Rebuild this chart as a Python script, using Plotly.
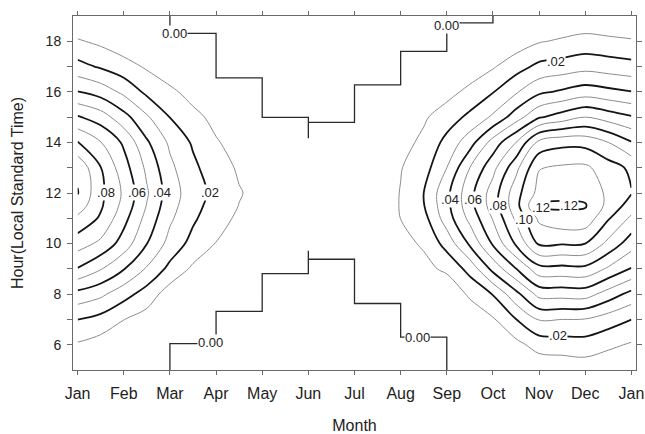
import plotly.graph_objects as go
import numpy as np

# Grid: month position (0 = Jan, 12 = following Jan) and hour of day
month_pos = [0, 0.5, 1, 1.5, 2, 2.5, 3, 3.5, 4, 4.5, 5, 5.5, 6,
             6.5, 7, 7.5, 8, 8.5, 9, 9.5, 10, 10.5, 11, 11.5, 12]
hours = [5, 6, 7, 8, 9, 10, 11, 11.5, 12, 13, 14, 15, 16, 17, 18, 19]

# Field value per month position, listed by hour (5, 6, ..., 11, 11.5, 12, ..., 19)
m00_0 = [0, 0.0089, 0.0201, 0.0367, 0.0594, 0.0745, 0.088, 0.0955, 0.1005, 0.098, 0.0806, 0.061, 0.0404, 0.0233, 0.0111, 0]
m00_5 = [0, 0.0056, 0.0166, 0.0322, 0.0507, 0.0678, 0.0786, 0.0815, 0.0822, 0.0803, 0.0704, 0.055, 0.0357, 0.0188, 0.0078, 0]
m01_0 = [0, 0, 0.0102, 0.0238, 0.0406, 0.0555, 0.0633, 0.0668, 0.0684, 0.0642, 0.0584, 0.0436, 0.0277, 0.0139, 0.0037, 0]
m01_5 = [0, 0, 0.0058, 0.0155, 0.0289, 0.0402, 0.0466, 0.0495, 0.0512, 0.0479, 0.0414, 0.0314, 0.0177, 0.0087, 0, 0]
m02_0 = [0, 0, 0, 0.005, 0.0172, 0.0265, 0.0317, 0.0337, 0.0348, 0.0323, 0.0282, 0.0198, 0.012, 0.004, 0, 0]
m02_5 = [0, 0, 0, 0, 0.0082, 0.0166, 0.0217, 0.0236, 0.0247, 0.0222, 0.0187, 0.0126, 0.0066, 0.001, 0, 0]
m03_0 = [0, 0, 0, 0.0025, 0.0061, 0.0097, 0.0133, 0.0155, 0.017, 0.0142, 0.0108, 0.0074, 0.004, 0.001, 0, 0]
m03_5 = [0, 0, 0, 0, 0.003, 0.006, 0.0085, 0.0098, 0.0106, 0.0088, 0.0065, 0.004, 0.002, 0, 0, 0]
m04_0 = [0, 0, 0, 0, 0, 0.003, 0.006, 0.0067, 0.007, 0.006, 0.004, 0, 0, 0, 0, 0]
m04_5 = [0, 0, 0, 0, 0, 0, 0, 0, 0, 0, 0, 0, 0, 0, 0, 0]
m05_0 = [0, 0, 0, 0, 0, 0, 0, 0, 0, 0, 0, 0, 0, 0, 0, 0]
m05_5 = [0, 0, 0, 0, 0, 0, 0, 0, 0, 0, 0, 0, 0, 0, 0, 0]
m06_0 = [0, 0, 0, 0, 0, 0, 0, 0, 0, 0, 0, 0, 0, 0, 0, 0]
m06_5 = [0, 0, 0, 0, 0, 0.002, 0.004, 0.004, 0.004, 0.003, 0.001, 0, 0, 0, 0, 0]
m07_0 = [0, 0, 0, 0, 0.004, 0.0065, 0.0101, 0.0105, 0.0104, 0.0095, 0.0065, 0.004, 0.001, 0, 0, 0]
m07_5 = [0, 0, 0, 0.002, 0.0066, 0.0115, 0.0165, 0.0195, 0.02, 0.0157, 0.0122, 0.0086, 0.005, 0.001, 0, 0]
m08_0 = [0, 0, 0, 0.0004, 0.0124, 0.0237, 0.0351, 0.0372, 0.0375, 0.03, 0.023, 0.0151, 0.0066, 0, 0, 0]
m08_5 = [0, 0, 0.001, 0.0122, 0.0233, 0.0417, 0.0528, 0.0565, 0.0568, 0.05, 0.0357, 0.0223, 0.0127, 0.0037, 0, 0]
m09_0 = [0, 0, 0.0089, 0.0205, 0.043, 0.0613, 0.0708, 0.0748, 0.0748, 0.0668, 0.0541, 0.0317, 0.0195, 0.009, 0, 0]
m09_5 = [0.001, 0.007, 0.0198, 0.0369, 0.0597, 0.0815, 0.092, 0.0965, 0.096, 0.087, 0.070, 0.0453, 0.0288, 0.0158, 0.0046, 0]
m10_0 = [0.0023, 0.0141, 0.0306, 0.0533, 0.0764, 0.1016, 0.112, 0.1212, 0.1135, 0.1095, 0.093, 0.0589, 0.038, 0.0225, 0.0092, 0]
m10_5 = [0.0033, 0.0148, 0.03, 0.0538, 0.0768, 0.1008, 0.117, 0.1215, 0.1175, 0.1115, 0.097, 0.0645, 0.0415, 0.0245, 0.0114, 0.001]
m11_0 = [0.0043, 0.0155, 0.0295, 0.0543, 0.0773, 0.1, 0.1165, 0.1208, 0.117, 0.112, 0.0965, 0.07, 0.045, 0.0266, 0.0135, 0.002]
m11_5 = [0.002, 0.0122, 0.0248, 0.0455, 0.0684, 0.0873, 0.101, 0.107, 0.108, 0.1045, 0.090, 0.0655, 0.0427, 0.025, 0.0123, 0.001]
m12_0 = [0, 0.0089, 0.0201, 0.0367, 0.0594, 0.0745, 0.088, 0.0955, 0.1005, 0.098, 0.0806, 0.061, 0.0404, 0.0233, 0.0111, 0]

columns = [m00_0, m00_5, m01_0, m01_5, m02_0, m02_5, m03_0, m03_5, m04_0,
           m04_5, m05_0, m05_5, m06_0, m06_5, m07_0, m07_5, m08_0, m08_5,
           m09_0, m09_5, m10_0, m10_5, m11_0, m11_5, m12_0]
z = np.array(columns).T  # rows = hours, cols = months

# Zero-value boundary (monthly steps): month edges and hours
upper_zero_month = [2, 3, 4, 5, 5, 6, 7, 8, 9, 9]
upper_zero_hour = [19, 18.31, 16.55, 14.99, 14.17, 14.79, 16.28, 17.60, 18.73, 19]
lower_zero_month = [2, 3, 4, 5, 5, 6, 7, 8, 8]
lower_zero_hour = [5, 6.04, 7.32, 8.81, 9.72, 9.38, 7.63, 6.30, 5]

# Contour labels
label_text = [".08", ".06", ".04", ".02", ".04", ".06", ".08", ".10",
              ".12", ".12", ".02", ".02",
              "0.00", "0.00", "0.00", "0.00"]
label_month = [0.62, 1.29, 1.83, 2.87, 8.06, 8.57, 9.12, 9.68,
               10.05, 10.64, 10.36, 10.40,
               2.11, 7.99, 2.87, 7.36]
label_hour = [12.03, 12.03, 12.03, 12.03, 11.75, 11.75, 11.49, 10.96,
              11.42, 11.52, 17.21, 6.37,
              18.29, 18.63, 6.07, 6.30]

month_names = ["Jan", "Feb", "Mar", "Apr", "May", "Jun", "Jul",
               "Aug", "Sep", "Oct", "Nov", "Dec", "Jan"]
hour_ticks = [6, 7, 8, 9, 10, 11, 12, 13, 14, 15, 16, 17, 18]
hour_text = [str(h) if h % 2 == 0 else "" for h in hour_ticks]

FONT = "Liberation Sans, Arial, sans-serif"
INK = "#222222"

fig = go.Figure()

# odd hundredths: thin grey lines
fig.add_trace(go.Contour(
    x=month_pos, y=hours, z=z,
    contours=dict(start=0.01, end=0.13, size=0.02, coloring="none"),
    line=dict(color="#8c8c8c", width=1, smoothing=1),
    showscale=False, hoverinfo="skip",
))
# even hundredths: heavy dark lines
fig.add_trace(go.Contour(
    x=month_pos, y=hours, z=z,
    contours=dict(start=0.02, end=0.12, size=0.02, coloring="none"),
    line=dict(color="#151515", width=1.8, smoothing=1),
    showscale=False, hoverinfo="skip",
))
# zero boundary steps
for mx, hy in ((upper_zero_month, upper_zero_hour), (lower_zero_month, lower_zero_hour)):
    fig.add_trace(go.Scatter(
        x=mx, y=hy, mode="lines",
        line=dict(color="#2a2a2a", width=1.3, shape="vh"),
        showlegend=False, hoverinfo="skip",
    ))

for t, mx, hy in zip(label_text, label_month, label_hour):
    fig.add_annotation(
        x=mx, y=hy, text=t, showarrow=False,
        font=dict(family=FONT, size=13, color=INK),
        bgcolor="white", borderpad=0,
    )

axis_common = dict(
    showline=True, linecolor="#6a6a6a", linewidth=1, mirror="ticks",
    ticks="outside", tickcolor="#6a6a6a", showgrid=False, zeroline=False,
    automargin=False,
)

fig.update_layout(
    width=645, height=434,
    margin=dict(l=73, r=9, t=16, b=64),
    paper_bgcolor="white", plot_bgcolor="white",
    showlegend=False,
    xaxis=dict(
        range=[-0.1, 12.1], tickvals=list(range(13)), ticktext=month_names,
        ticklen=4, ticklabelstandoff=5,
        tickfont=dict(family=FONT, size=16, color=INK),
        title=dict(text="Month", font=dict(family=FONT, size=16, color=INK), standoff=21),
        **axis_common,
    ),
    yaxis=dict(
        range=[5, 19], tickvals=hour_ticks, ticktext=hour_text,
        ticklen=5, ticklabelstandoff=3,
        tickfont=dict(family=FONT, size=14, color=INK),
        title=dict(text="Hour(Local Standard Time)", font=dict(family=FONT, size=16, color=INK), standoff=18),
        **axis_common,
    ),
)

fig.write_html("out.html")
